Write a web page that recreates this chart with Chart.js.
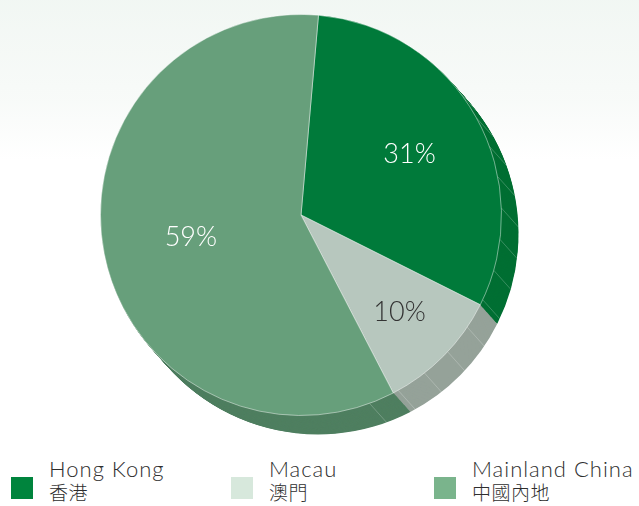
<!DOCTYPE html>
<html>
<head>
<meta charset="utf-8">
<script src="https://cdn.jsdelivr.net/npm/chart.js@4/dist/chart.umd.min.js"></script>
<style>
html,body{margin:0;padding:0;}
body{width:639px;height:506px;position:relative;overflow:hidden;background:#fff;
 font-family:"Lato","Noto Sans CJK TC",sans-serif;}
#bg{position:absolute;left:0;top:0;width:639px;height:160px;
 background:linear-gradient(to bottom,rgba(240,246,242,0.9) 0,rgba(247,250,248,0.9) 100px,rgba(255,255,255,0) 160px);}
#wrap{position:absolute;left:80px;top:0;width:460px;height:452px;}
.lg{position:absolute;top:457px;}
.sq{position:absolute;top:20px;width:22px;height:22px;}
.tx{position:absolute;top:0;font-size:22px;letter-spacing:1px;line-height:24px;color:#2e2e2e;font-weight:300;white-space:nowrap;}
.tx span{display:block;font-family:"Noto Sans CJK TC",sans-serif;letter-spacing:0.5px;font-size:19px;line-height:22px;}
</style>
</head>
<body>
<div id="bg"></div>
<div id="wrap"><canvas id="c"></canvas></div>
<div id="legend"></div>
<script>
const categories = ["Hong Kong", "Macau", "Mainland China"];
const categoriesZh = ["香港", "澳門", "中國內地"];
const shares = [31, 10, 59];
const shareLabels = ["31%", "10%", "59%"];

const topColors = ["#007a3a", "#b7c7be", "#679f7b"];
const sideColors = ["#006f33", "#95a299", "#4f7f60"];
const legendColors = ["#00843d", "#d7e8dc", "#7ab48c"];
const labelColors = ["#ffffff", "#333333", "#ffffff"];

// legend (HTML, built from data arrays)
const legendX = [11, 231, 434];
const lg = document.getElementById('legend');
categories.forEach((c, i) => {
  const d = document.createElement('div');
  d.className = 'lg';
  d.style.left = legendX[i] + 'px';
  d.innerHTML = '<div class="sq" style="left:0;background:' + legendColors[i] + '"></div>' +
    '<div class="tx" style="left:38px">' + c + '<span>' + categoriesZh[i] + '</span></div>';
  lg.appendChild(d);
});

const labelRadius = [0.62, 0.69, 0.56];

const sidePlugin = {
  id: 'side3d',
  beforeDatasetsDraw(chart) {
    const ctx = chart.ctx;
    const meta = chart.getDatasetMeta(0);
    const dx = 17, dy = 19, steps = 40;
    ctx.save();
    for (let s = steps; s >= 1; s--) {
      const ox = dx * s / steps, oy = dy * s / steps;
      meta.data.forEach((arc, i) => {
        const p = arc.getProps(['x', 'y', 'startAngle', 'endAngle', 'outerRadius']);
        ctx.beginPath();
        ctx.moveTo(p.x + ox, p.y + oy);
        ctx.arc(p.x + ox, p.y + oy, p.outerRadius, p.startAngle, p.endAngle);
        ctx.closePath();
        ctx.fillStyle = sideColors[i];
        ctx.fill();
      });
    }
    // facet lines on the visible side
    const p0 = meta.data[0].getProps(['x', 'y', 'outerRadius']);
    ctx.strokeStyle = 'rgba(255,255,255,0.28)';
    ctx.lineWidth = 0.8;
    for (let a = -38; a <= 74; a += 9) {
      const t = a * Math.PI / 180;
      const c = Math.cos(t), sn = Math.sin(t);
      const x1 = p0.x + p0.outerRadius * c, y1 = p0.y + p0.outerRadius * sn;
      ctx.beginPath();
      ctx.moveTo(x1, y1);
      ctx.lineTo(x1 + dx, y1 + dy);
      ctx.stroke();
    }
    ctx.restore();
  },
  afterDatasetsDraw(chart) {
    const ctx = chart.ctx;
    const meta = chart.getDatasetMeta(0);
    ctx.save();
    ctx.font = '300 27px Lato, sans-serif';
    ctx.textAlign = 'center';
    ctx.textBaseline = 'middle';
    meta.data.forEach((arc, i) => {
      const p = arc.getProps(['x', 'y', 'startAngle', 'endAngle', 'outerRadius']);
      const mid = (p.startAngle + p.endAngle) / 2;
      const r = p.outerRadius * labelRadius[i];
      ctx.fillStyle = labelColors[i];
      ctx.fillText(shareLabels[i], p.x + Math.cos(mid) * r, p.y + Math.sin(mid) * r);
    });
    ctx.restore();
  }
};

new Chart(document.getElementById('c'), {
  type: 'pie',
  data: {
    labels: categories,
    datasets: [{
      data: shares,
      backgroundColor: topColors,
      borderColor: 'rgba(255,255,255,0.45)',
      borderWidth: 1
    }]
  },
  options: {
    responsive: true,
    maintainAspectRatio: false,
    animation: false,
    rotation: 5,
    layout: { padding: { left: 20, right: 38, top: 14, bottom: 36 } },
    plugins: { legend: { display: false }, tooltip: { enabled: false } }
  },
  plugins: [sidePlugin]
});
</script>
</body>
</html>
